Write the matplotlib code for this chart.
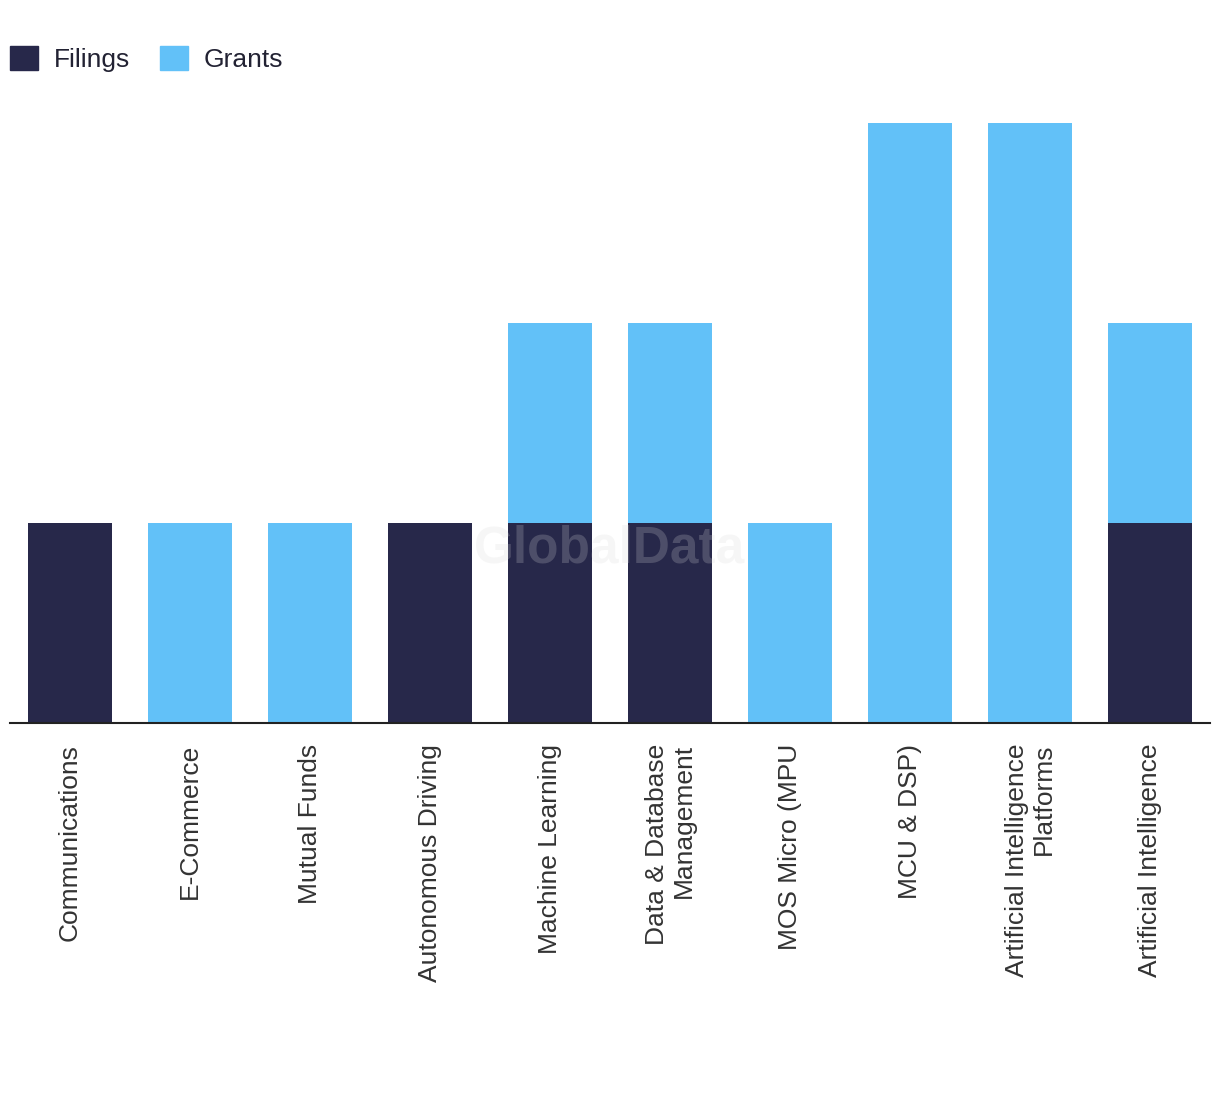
import numpy as np
import matplotlib.pyplot as plt
from matplotlib.patches import Patch

categories = ['Communications', 'E-Commerce', 'Mutual Funds', 'Autonomous Driving',
              'Machine Learning', 'Data & Database\nManagement', 'MOS Micro (MPU',
              'MCU & DSP)', 'Artificial Intelligence\nPlatforms', 'Artificial Intelligence']
filings = [1, 0, 0, 1, 1, 1, 0, 0, 0, 1]
grants = [0, 1, 1, 0, 1, 1, 1, 3, 3, 1]

NAVY = '#27284a'
BLUE = '#62c1f8'

plt.rcParams['font.family'] = ['Liberation Sans', 'DejaVu Sans']

fig = plt.figure(figsize=(12.2, 10.94), dpi=100)
ax = fig.add_axes([10 / 1220, 1 - 723 / 1094, 1200 / 1220, 600 / 1094])

x = np.arange(len(categories))
ax.bar(x, filings, width=0.7, color=NAVY, label='Filings')
ax.bar(x, grants, width=0.7, bottom=filings, color=BLUE, label='Grants')

ax.set_xlim(-0.5, len(categories) - 0.5)
ax.set_ylim(0, 3)
ax.set_yticks([])
ax.set_xticks(x)
ax.set_xticklabels(categories, rotation=90, fontsize=19, color='#333333',
                   ha='center', va='top', multialignment='right', linespacing=1.15)
ax.tick_params(axis='x', length=0, pad=15)
for s in ['top', 'right', 'left']:
    ax.spines[s].set_visible(False)
ax.spines['bottom'].set_color('#222222')
ax.spines['bottom'].set_linewidth(1.5)

# watermark
ax.text(0.5, 0.29, 'GlobalData', transform=ax.transAxes, ha='center', va='center',
        fontsize=37, fontweight='bold', color='#d8d8d8', alpha=0.22, zorder=5)

handles = [Patch(color=NAVY, label='Filings'), Patch(color=BLUE, label='Grants')]
fig.legend(handles=handles, loc='center left', bbox_to_anchor=(10 / 1220, 1 - 59 / 1094),
           ncol=2, frameon=False, fontsize=19, handlelength=1.06, handleheight=1.06,
           handletextpad=0.62, columnspacing=1.1, labelcolor='#222233',
           borderaxespad=0.0, borderpad=0.0)

fig.savefig('out.png', dpi=100)
